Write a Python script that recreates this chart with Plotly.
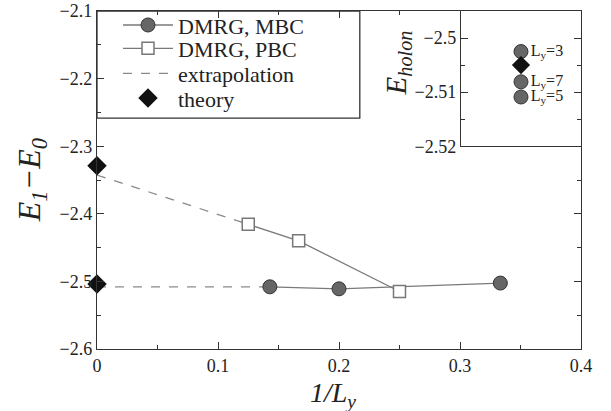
import plotly.graph_objects as go

# ---- data ----
mbc_x = [1/7, 1/5, 1/3]
mbc_y = [-2.508, -2.511, -2.5025]
pbc_x = [1/8, 1/6, 1/4]
pbc_y = [-2.4156, -2.440, -2.515]
extrap_pbc_x = [0.0, 1/8]
extrap_pbc_y = [-2.3426, -2.4156]
extrap_mbc_x = [0.0, 1/7]
extrap_mbc_y = [-2.508, -2.508]
theory_x = [0.0, 0.0]
theory_y = [-2.329, -2.504]

inset_labels = ["L<sub>y</sub>=3", "L<sub>y</sub>=7", "L<sub>y</sub>=5"]
inset_y = [-2.5025, -2.5081, -2.5109]
inset_theory_y = [-2.505]

main_yticks = [-2.6, -2.5, -2.4, -2.3, -2.2, -2.1]
main_xticks = [0, 0.1, 0.2, 0.3, 0.4]
inset_yticks = [-2.52, -2.51, -2.5]
inset_yticktext = ["\u22122.52", "\u22122.51", "\u22122.5"]

FONT = "Liberation Serif, Times New Roman, Times, serif"
GRAY_FILL = "#666666"
LINE_GRAY = "#7a7a7a"
TXT = "#222222"

fig = go.Figure()

# extrapolation (dashed)
fig.add_trace(go.Scatter(
    x=extrap_pbc_x + [None] + extrap_mbc_x,
    y=extrap_pbc_y + [None] + extrap_mbc_y,
    mode="lines", name="extrapolation",
    line=dict(color="#8a8a8a", width=1.3, dash="dash"),
    legend="legend3", cliponaxis=False))

fig.add_trace(go.Scatter(
    x=mbc_x, y=mbc_y, mode="lines+markers", name="DMRG, MBC",
    line=dict(color=LINE_GRAY, width=1.3),
    marker=dict(symbol="circle", size=14, color=GRAY_FILL,
                line=dict(color="#333333", width=1)),
    legend="legend", cliponaxis=False))

fig.add_trace(go.Scatter(
    x=pbc_x, y=pbc_y, mode="lines+markers", name="DMRG, PBC",
    line=dict(color=LINE_GRAY, width=1.3),
    marker=dict(symbol="square", size=12, color="white",
                line=dict(color="#777777", width=1.5)),
    legend="legend2", cliponaxis=False))

fig.add_trace(go.Scatter(
    x=theory_x, y=theory_y, mode="markers", name="theory",
    marker=dict(symbol="diamond", size=15, color="#111111"),
    legend="legend4", cliponaxis=False))

# inset
fig.add_trace(go.Scatter(
    x=[0.5] * len(inset_y), y=inset_y, mode="markers+text",
    text=inset_labels, textposition="middle right",
    textfont=dict(family=FONT, size=16, color=TXT),
    marker=dict(symbol="circle", size=14, color=GRAY_FILL,
                line=dict(color="#333333", width=1)),
    xaxis="x2", yaxis="y2", showlegend=False, cliponaxis=False))
fig.add_trace(go.Scatter(
    x=[0.5], y=inset_theory_y, mode="markers",
    marker=dict(symbol="diamond", size=14, color="#111111"),
    xaxis="x2", yaxis="y2", showlegend=False, cliponaxis=False))

axis_common = dict(showline=True, linecolor="#333333", linewidth=1.3,
                   mirror="ticks", ticks="inside", ticklen=7,
                   tickcolor="#333333", showgrid=False, zeroline=False,
                   tickfont=dict(family=FONT, size=18, color=TXT))


def leg(ycenter):
    return dict(x=0.0434, y=ycenter, xanchor="left", yanchor="middle",
                bgcolor="rgba(0,0,0,0)", borderwidth=0, itemwidth=50,
                font=dict(family=FONT, size=22, color=TXT))


fig.update_layout(
    width=611, height=411,
    margin=dict(l=97, r=30, t=11, b=62, autoexpand=False),
    paper_bgcolor="white", plot_bgcolor="white",
    font=dict(family=FONT, color=TXT),
    xaxis=dict(range=[0, 0.4], tickvals=main_xticks,
               minor=dict(dtick=0.05, ticks="inside", ticklen=4, tickcolor="#333333"),
               **axis_common),
    yaxis=dict(range=[-2.6, -2.1], tickvals=main_yticks,
               minor=dict(dtick=0.05, ticks="inside", ticklen=4, tickcolor="#333333"),
               **axis_common),
    xaxis2=dict(domain=[0.752, 1.0], anchor="y2", range=[0, 1],
                showticklabels=False, showline=True, linecolor="#333333",
                linewidth=1.3, mirror=True, ticks="", showgrid=False, zeroline=False),
    yaxis2=dict(domain=[0.6, 1.0], anchor="x2", range=[-2.52, -2.495],
                tickvals=inset_yticks, ticktext=inset_yticktext,
                minor=dict(dtick=0.005, ticks="inside", ticklen=4, tickcolor="#333333"),
                **axis_common),
    legend=leg(0.958),
    legend2=leg(0.889),
    legend3=leg(0.815),
    legend4=leg(0.742),
    shapes=[
        dict(type="rect", xref="paper", yref="paper", x0=0, x1=0.543,
             y0=0.683, y1=1.0, line=dict(color="#333333", width=1.3),
             fillcolor="white", layer="below"),
        dict(type="rect", xref="paper", yref="paper", x0=0.752, x1=1.0,
             y0=0.6, y1=1.0, line=dict(width=0),
             fillcolor="white", layer="below"),
    ],
    annotations=[
        dict(text="<i>E<sub>1</sub>\u2212E<sub>0</sub></i>", xref="paper", yref="paper",
             x=-0.136, y=0.5, xanchor="center", yanchor="middle",
             textangle=-90, showarrow=False,
             font=dict(family=FONT, size=32, color=TXT)),
        dict(text="<i>1/L<sub>y</sub></i>", xref="paper", yref="paper",
             x=0.4876, y=-0.135, xanchor="center", yanchor="middle",
             showarrow=False,
             font=dict(family=FONT, size=28, color=TXT)),
        dict(text="<i>E<sub>holon</sub></i>", xref="paper", yref="paper",
             x=0.622, y=0.845, xanchor="center", yanchor="middle",
             textangle=-90, showarrow=False,
             font=dict(family=FONT, size=29, color=TXT)),
    ],
)

fig.write_html("out.html")
